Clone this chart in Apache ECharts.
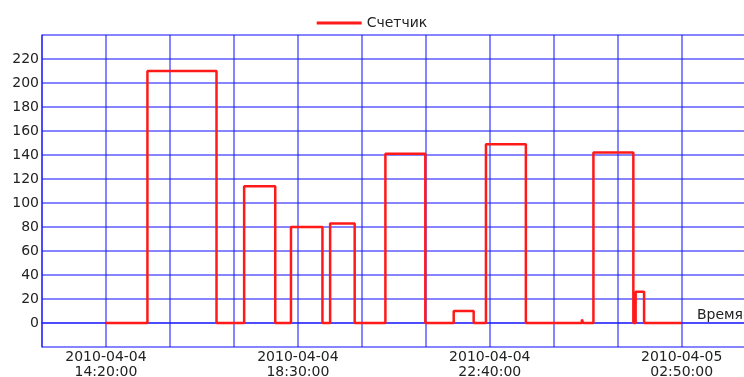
<!DOCTYPE html>
<html>
<head>
<meta charset="utf-8">
<script src="https://cdn.jsdelivr.net/npm/echarts@6/dist/echarts.min.js"></script>
<style>
  html, body { margin: 0; padding: 0; background: #fff; }
  #chart { width: 744px; height: 377px; }
</style>
</head>
<body>
<div id="chart"></div>
<script>
// Meter readings: each value holds from its timestamp until the next one.
const seriesName = 'Счетчик';
const axisName = 'Время';
const readingTimes = [
  '2010-04-04 14:20:00', '2010-04-04 15:14:00', '2010-04-04 16:44:00',
  '2010-04-04 17:20:00', '2010-04-04 18:00:30', '2010-04-04 18:21:00',
  '2010-04-04 19:02:00', '2010-04-04 19:12:00', '2010-04-04 19:44:00',
  '2010-04-04 20:24:00', '2010-04-04 21:16:00', '2010-04-04 21:35:00',
  '2010-04-04 21:36:00', '2010-04-04 21:53:00', '2010-04-04 22:19:00',
  '2010-04-04 22:35:00', '2010-04-04 23:27:00', '2010-04-05 00:15:00',
  '2010-04-05 00:16:00', '2010-04-05 00:40:00', '2010-04-05 00:41:30',
  '2010-04-05 00:55:00', '2010-04-05 01:47:00', '2010-04-05 01:50:00',
  '2010-04-05 02:01:00', '2010-04-05 02:20:00', '2010-04-05 02:21:00',
  '2010-04-05 02:41:00', '2010-04-05 02:42:00', '2010-04-05 02:50:00'
];
const readingValues = [
  0, 210, 0,
  114, 0, 80,
  0, 83, 0,
  141, 0, 1,
  0, 10, 0,
  149, 0, 1,
  0, 3, 0,
  142, 0, 26,
  0, 1, 0,
  1, 0, 0
];
// X axis: seconds counted from the axis origin, one grid step = 5000 s
const axisOrigin = '2010-04-04 12:56:40';
const xStep = 5000;
const xLabelEvery = 3;       // dated label on every third grid line
const xMax = 57996;
const xLastVisibleLine = 50000;
const yTicks = [0, 20, 40, 60, 80, 100, 120, 140, 160, 180, 200, 220];

function toUtc(s) {
  const [d, t] = s.split(' ');
  const [Y, M, D] = d.split('-').map(Number);
  const [h, m, sec] = t.split(':').map(Number);
  return Date.UTC(Y, M - 1, D, h, m, sec);
}
const originMs = toUtc(axisOrigin);
const pad = n => String(n).padStart(2, '0');

const data = readingTimes.map((t, i) => [(toUtc(t) - originMs) / 1000, readingValues[i]]);

const gridColor = 'rgba(30,30,255,0.72)';
const textStyle = { fontFamily: 'DejaVu Sans', fontSize: 14, color: '#222' };
// vertical grid lines past the last visible one stay hidden
const xLineCount = Math.floor(xMax / xStep) + 2;
const xLineColors = Array.from({ length: xLineCount },
  (_, i) => (i * xStep <= xLastVisibleLine ? gridColor : 'rgba(0,0,0,0)'));

const chart = echarts.init(document.getElementById('chart'), null, { renderer: 'canvas' });
chart.setOption({
  animation: false,
  backgroundColor: '#fff',
  legend: {
    top: 11,
    left: 'center',
    itemWidth: 45,
    itemHeight: 14,
    itemGap: 10,
    textStyle: Object.assign({}, textStyle),
    data: [{ name: seriesName, icon: 'path://M0,6 L45,6 L45,9 L0,9 Z' }]
  },
  // the plot area runs past the right edge of the canvas
  grid: { show: false, left: 42, right: -40, top: 35, bottom: 30, containLabel: false, outerBoundsMode: 'none' },
  xAxis: {
    type: 'value',
    min: 0,
    max: xMax,
    interval: xStep,
    name: axisName,
    nameLocation: 'end',
    nameGap: 0,
    nameTextStyle: Object.assign({}, textStyle, { align: 'right', verticalAlign: 'bottom', padding: [0, 41, 1, 0] }),
    axisLine: { show: true, lineStyle: { color: gridColor, width: 1.5 } },
    axisTick: { show: false },
    splitLine: { show: true, lineStyle: { color: xLineColors, width: 1.5 } },
    axisLabel: Object.assign({}, textStyle, {
      margin: 3,
      lineHeight: 15,
      showMinLabel: true,
      showMaxLabel: false,
      formatter: function (v) {
        const k = Math.round(v / xStep);
        if (Math.abs(v - k * xStep) > 1 || k % xLabelEvery !== 1) return '';
        const d = new Date(originMs + v * 1000);
        return d.getUTCFullYear() + '-' + pad(d.getUTCMonth() + 1) + '-' + pad(d.getUTCDate()) +
          '\n' + pad(d.getUTCHours()) + ':' + pad(d.getUTCMinutes()) + ':' + pad(d.getUTCSeconds());
      }
    })
  },
  yAxis: {
    type: 'value',
    min: -20,
    max: 240,
    interval: 20,
    axisLine: { show: true, lineStyle: { color: gridColor, width: 1.5 } },
    axisTick: { show: false },
    splitLine: { show: true, lineStyle: { color: gridColor, width: 1.5 } },
    axisLabel: Object.assign({}, textStyle, {
      margin: 3,
      formatter: v => (yTicks.indexOf(v) >= 0 ? String(v) : '')
    })
  },
  series: [{
    name: seriesName,
    type: 'line',
    step: 'end',
    data: data,
    showSymbol: false,
    symbol: 'none',
    lineStyle: { color: '#ff1a1a', width: 2.5 },
    itemStyle: { color: '#ff1a1a' }
  }]
});
</script>
</body>
</html>
